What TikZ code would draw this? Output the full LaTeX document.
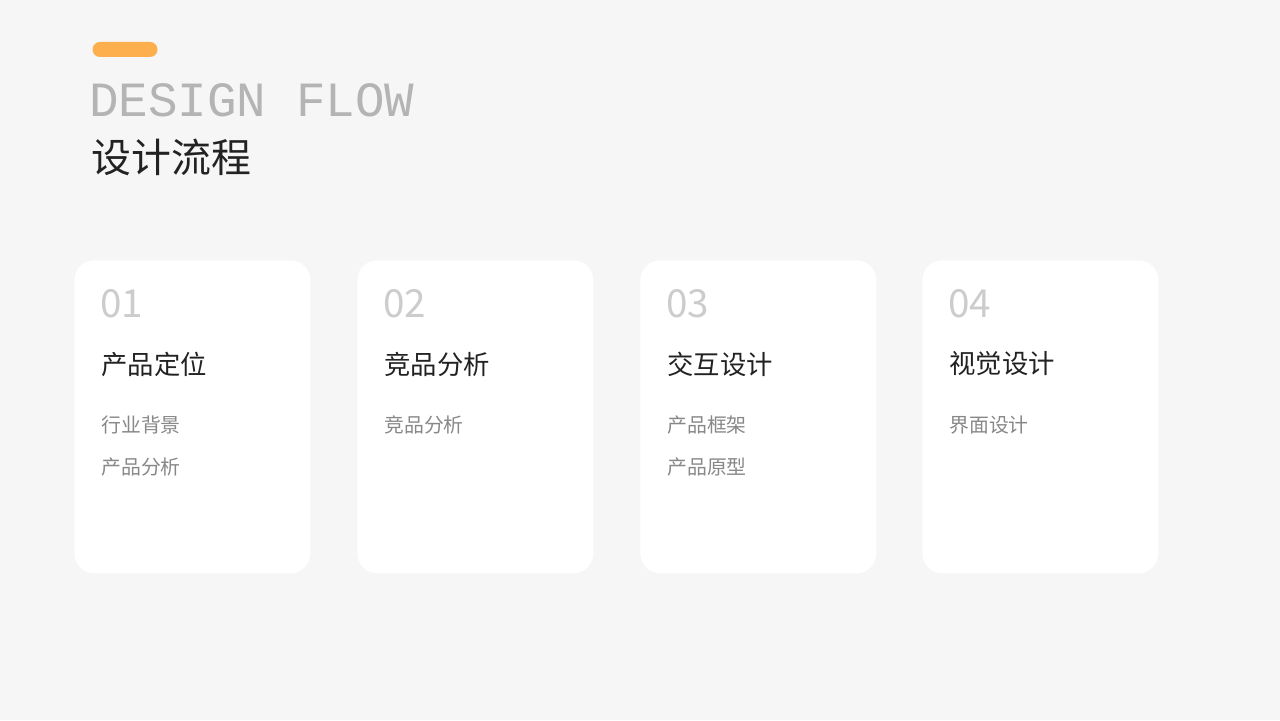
\documentclass[tikz,border=0pt]{standalone}
\usepackage{fontspec}
\setmainfont{Noto Sans CJK SC}
\newfontfamily\monofont{Liberation Mono}
\definecolor{pagebg}{HTML}{F6F6F6}
\definecolor{accent}{HTML}{FDAF4E}
\definecolor{titlegray}{HTML}{B4B4B4}
\definecolor{numgray}{HTML}{CCCCCC}
\definecolor{itemgray}{HTML}{888888}
\definecolor{headblack}{HTML}{222222}
\tikzset{
  card/.style={fill=white, rounded corners=0.4cm, minimum width=4.72cm, minimum height=6.26cm, anchor=north west, inner sep=0pt},
  num/.style={anchor=west, text=numgray, font=\fontsize{22}{24}\selectfont, inner sep=0pt},
  head/.style={anchor=west, text=headblack, font=\fontsize{15}{18}\selectfont, inner sep=0pt},
  item/.style={anchor=west, text=itemgray, font=\fontsize{11.3}{14}\selectfont, inner sep=0pt}
}
\begin{document}
\begin{tikzpicture}
\fill[pagebg] (0,0) rectangle (25.6,14.4);
\useasboundingbox (0,0) rectangle (25.6,14.4);
% title
\node[fill=accent, rounded corners=0.15cm, minimum width=1.3cm, minimum height=0.3cm, inner sep=0pt] (pill) at (2.5,13.41) {};
\node[anchor=west, text=titlegray, inner sep=0pt, font=\monofont\fontsize{28}{30}\selectfont] (entitle) at (1.78,12.39) {DESIGN FLOW};
\node[anchor=west, text=headblack, inner sep=0pt, font=\fontsize{22.7}{26}\selectfont] (cntitle) at (1.82,11.26) {设计流程};
% cards
\foreach \i/\x/\n/\h in {1/1.48/01/产品定位, 2/7.14/02/竞品分析, 3/12.80/03/交互设计, 4/18.44/04/视觉设计}{
  \node[card] (card\i) at (\x,9.2) {};
  \node[num] (num\i) at ([xshift=0.52cm, yshift=-0.88cm]card\i.north west) {\n};
  \node[head] (head\i) at ([xshift=0.54cm, yshift=-2.08cm]card\i.north west) {\h};
}
\node[item] (item1a) at ([xshift=0.54cm, yshift=-3.3cm]card1.north west) {行业背景};
\node[item] (item1b) at ([xshift=0.54cm, yshift=-4.14cm]card1.north west) {产品分析};
\node[item] (item2a) at ([xshift=0.54cm, yshift=-3.3cm]card2.north west) {竞品分析};
\node[item] (item3a) at ([xshift=0.54cm, yshift=-3.3cm]card3.north west) {产品框架};
\node[item] (item3b) at ([xshift=0.54cm, yshift=-4.14cm]card3.north west) {产品原型};
\node[item] (item4a) at ([xshift=0.54cm, yshift=-3.3cm]card4.north west) {界面设计};
\end{tikzpicture}
\end{document}
